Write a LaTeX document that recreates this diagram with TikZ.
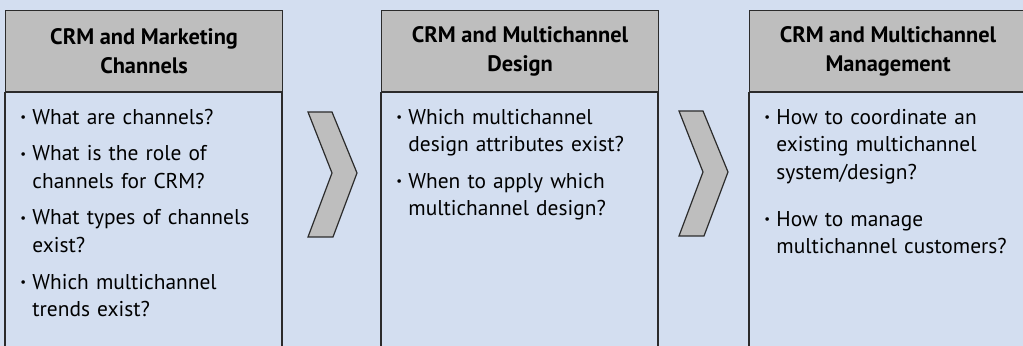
\documentclass[tikz,border=0pt]{standalone}
\usepackage{fontspec}
\setmainfont{PT Sans}
\usepackage{tikz}
\usetikzlibrary{positioning}
\definecolor{bgc}{HTML}{D3DEF0}
\definecolor{hdc}{HTML}{BEBEBE}
\definecolor{lnc}{HTML}{2B2B2B}
\newcommand{\qit}[1]{\par\hangindent=6pt\hangafter=1\noindent\makebox[6pt][l]{\raisebox{0.25ex}{\scalebox{0.6}{\textbullet}}}#1\par\vspace{4.5pt}}
\tikzset{
  hd/.style={draw=lnc,line width=0.6pt,fill=hdc,minimum width=138.5pt,minimum height=40.5pt,align=center,inner sep=0pt,anchor=north west,font=\bfseries\fontsize{11.2}{14.5}\selectfont},
  txt/.style={text width=134pt,align=left,inner sep=0pt,font=\fontsize{10.7}{13.8}\selectfont},
  chev/.style={draw=lnc,line width=0.6pt,fill=hdc}
}
\begin{document}
\begin{tikzpicture}[x=0.5pt,y=-0.5pt]
\fill[bgc] (0,0) rectangle (1023,346);
\clip (0,0) rectangle (1023,346);
% column heads
\node[hd] (h1) at (5,10) {CRM and Marketing\\Channels};
\node[hd] (h2) at (381,10) {CRM and Multichannel\\Design};
\node[hd] (h3) at (749,10) {CRM and Multichannel\\Management};
\foreach \h in {h1,h2,h3}
  \draw[lnc,line width=0.6pt] (\h.south west) rectangle ++(277,270);
% questions
\node[txt,below right=2pt and 7.5pt of h1.south west] (b1) {%
  \qit{What are channels?}
  \qit{What is the role of\newline channels for CRM?}
  \qit{What types of channels\newline exist?}
  \qit{Which multichannel\newline trends exist?}};
\node[txt,below right=2pt and 7.5pt of h2.south west] (b2) {%
  \qit{Which multichannel\newline design attributes exist?}
  \qit{When to apply which\newline multichannel design?}};
\node[txt,below right=2pt and 7.5pt of h3.south west] (b3) {%
  \qit{How to coordinate an\newline existing multichannel\newline system/design?}
  \vspace{5.2pt}
  \qit{How to manage\newline multichannel customers?}};
% chevrons
\coordinate (c1) at (308,112);
\coordinate (c2) at (679,111);
\foreach \c in {c1,c2}
  \draw[chev] (\c) -- ++(24,0) -- ++(25,61) -- ++(-24,64) -- ++(-25,0) -- ++(24,-64) -- cycle;
\end{tikzpicture}
\end{document}
